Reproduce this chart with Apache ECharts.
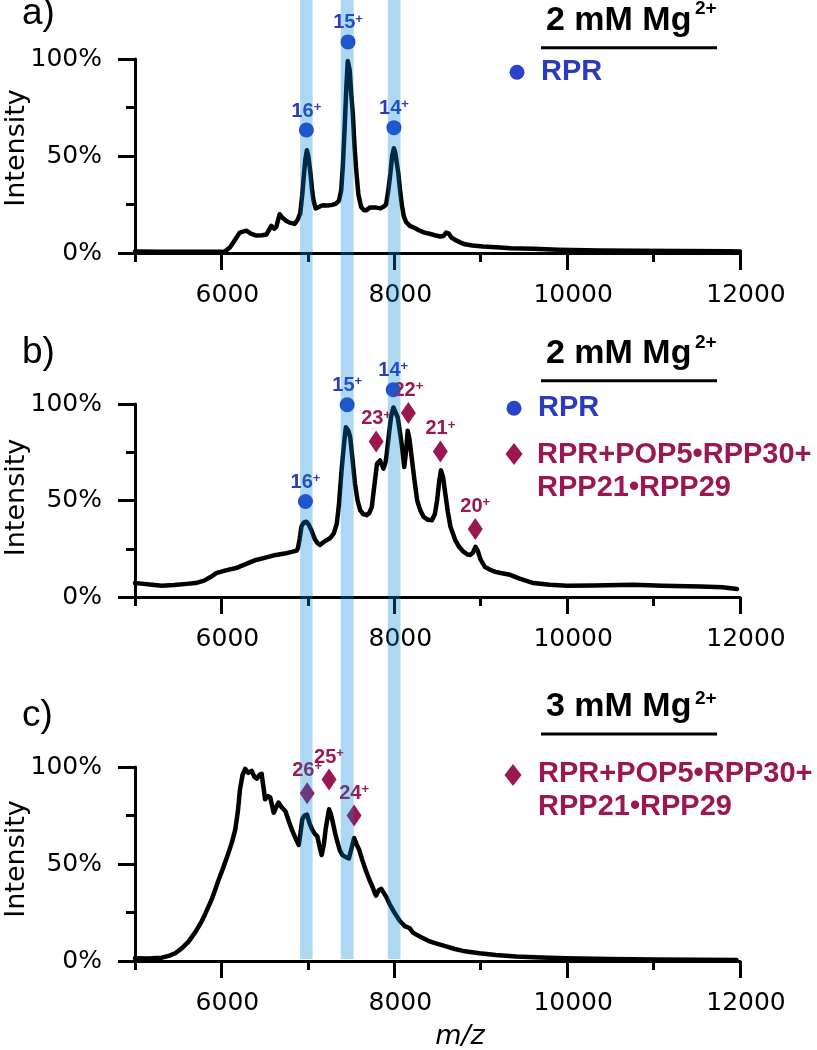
<!DOCTYPE html>
<html><head><meta charset="utf-8">
<script src="https://cdn.jsdelivr.net/npm/echarts@6/dist/echarts.min.js"></script>
<style>html,body{margin:0;padding:0;background:#fff}#c{width:817px;height:1050px}</style>
</head><body><div id="c"></div>
<script>
// ---- data ----
const xMajorTicks = [6000, 8000, 10000, 12000];
const xMinorTicks = [5000, 7000, 9000, 11000];
const bands = [[6910, 7055], [7380, 7530], [7925, 8072]];

const spectrumA = [[5000,0.8],[5300,0.6],[5600,0.7],[5900,0.6],[6040,0.8],[6100,3],[6160,7],[6211,10.5],[6289,11.5],[6340,10],[6405,9],[6470,9.2],[6520,9.5],[6577,14],[6610,12.5],[6635,13.5],[6673,20],[6710,18],[6751,16.5],[6800,15.5],[6847,15],[6880,17],[6912,20.5],[6935,30],[6950,38],[6970,48],[6989,53],[7005,50],[7028,42],[7050,32],[7066,27],[7090,23],[7104,22],[7140,24],[7173,24.6],[7230,24.5],[7280,24.8],[7328,25.5],[7360,27],[7386,32.3],[7405,45],[7424,63],[7445,85],[7462,99],[7472,100],[7485,94],[7500,83],[7520,72],[7540,55],[7559,43],[7585,30],[7617,23.7],[7650,22],[7674,22],[7720,23.5],[7780,23.5],[7840,23],[7880,24],[7905,25],[7930,32],[7955,41],[7975,50],[7995,54],[8010,52],[8030,46],[8047,41],[8070,31],[8090,24],[8110,19],[8136,16],[8180,14],[8230,13],[8290,11.6],[8350,10.5],[8420,9.8],[8483,9],[8530,8.5],[8570,8.8],[8600,10.5],[8630,10],[8660,8],[8714,6.5],[8760,5.5],[8820,4.5],[8906,3.9],[9026,3.4],[9176,3],[9350,2.5],[9603,2.2],[9900,1.7],[10374,1.3],[10800,1.1],[11300,1],[11875,0.9],[12000,0.8]];

const spectrumB = [[5000,7.2],[5100,6.8],[5200,6.3],[5310,5.8],[5450,6.2],[5600,6.8],[5700,7.2],[5800,8.5],[5880,10.5],[5940,12.4],[6050,13.8],[6170,15],[6280,17],[6400,19.2],[6520,20.5],[6630,21.8],[6730,22.5],[6825,23.5],[6870,24],[6885,25.3],[6905,30],[6925,36.4],[6950,38.5],[6983,39],[7010,37.5],[7040,34.7],[7080,30],[7110,28],[7140,27],[7200,29],[7255,30.4],[7300,33],[7335,38],[7360,48],[7390,65.6],[7420,80],[7440,88],[7450,89],[7470,86],[7490,82.8],[7515,72],[7545,58.8],[7575,50],[7605,45],[7640,43],[7680,42.4],[7710,43.5],[7740,46.7],[7770,58],[7800,69],[7835,70.8],[7875,66.5],[7900,70],[7912,74],[7940,85],[7965,94],[7990,98.2],[8010,99],[8040,93],[8070,84],[8090,77.6],[8115,67.3],[8135,75],[8155,86.2],[8175,82],[8205,70.8],[8235,60],[8265,50],[8300,45],[8340,41.5],[8390,40],[8435,39.8],[8470,43],[8495,50],[8520,60],[8540,65.6],[8565,62],[8590,53.6],[8620,44],[8650,36.4],[8705,29.5],[8750,26],[8800,23.5],[8850,22],[8880,21.8],[8910,23],[8940,26],[8965,24],[9000,19.2],[9050,15.5],[9115,14],[9170,13],[9230,12.4],[9340,11.5],[9450,9.5],[9610,7.2],[9800,6.3],[9995,5.8],[10300,6],[10765,6.3],[11100,5.8],[11540,5.5],[11800,5],[11965,4.1]];

const spectrumC = [[5000,1.4],[5150,1.3],[5310,1.7],[5400,2.8],[5465,4],[5540,6.5],[5620,10],[5700,15],[5760,19.5],[5810,24],[5890,32],[5965,41.5],[6020,48],[6080,55.5],[6120,61],[6160,67.7],[6190,77],[6215,88.6],[6245,96],[6275,99],[6310,97],[6350,98],[6380,95],[6410,94],[6440,96],[6465,96.5],[6485,90],[6505,83.4],[6535,85],[6565,84.3],[6605,76.4],[6630,79],[6660,81.7],[6700,79],[6740,77.3],[6780,72],[6815,67.7],[6860,63],[6895,59.8],[6915,66],[6935,73],[6960,75],[6990,75.5],[7020,71],[7050,67.7],[7080,65.5],[7110,64.2],[7140,58],[7160,54.6],[7185,60],[7205,67.7],[7225,73],[7245,78.2],[7265,76],[7290,71.2],[7315,66],[7340,61.6],[7370,57],[7400,54.6],[7440,53.5],[7475,52.9],[7505,58],[7535,63.4],[7565,60],[7595,57.2],[7630,52],[7670,46.8],[7710,42],[7750,38],[7775,35],[7790,33.7],[7820,36.5],[7850,37.2],[7880,35],[7910,32.8],[7950,29],[7990,25.8],[8030,23],[8065,20.6],[8120,18],[8175,17],[8220,14.5],[8300,12.5],[8410,10.1],[8500,8.8],[8600,7.5],[8700,6.2],[8795,5.2],[8900,4.5],[8985,4],[9175,3.1],[9410,2.3],[9700,1.8],[9990,1.4],[10500,1],[11000,0.8],[11500,0.6],[11960,0.5]];

const rprA = [[6983,63.4,'16'],[7465,108.8,'15'],[7996,64.6,'14']];
const rprB = [[6972,49.5,'16'],[7455,99.6,'15'],[7988,107.4,'14']];
const complexB = [[7790,80.6,'23'],[8163,95.3,'22'],[8533,75.4,'21'],[8937,35.2,'20']];
const complexC = [[6992,86.5,'26'],[7245,93.5,'25'],[7535,75,'24']];

// ---- styles ----
const BLUE = '#2a43c8', BLUE_T = '#2c3abd', RED = '#9b1751';
const REG = 'DejaVu Sans', BOLD = 'Liberation Sans';
const grids = [
  {left:135, right:77, top:59, height:194},
  {left:135, right:77, top:404, height:193},
  {left:135, right:77, top:767, height:194},
  {left:135, right:77, top:0, height:959}
];
const ax = {color:'#000', width:3};
const xAxes = [], yAxes = [];
for (let i = 0; i < 3; i++) {
  xAxes.push({type:'value', gridIndex:i, position:'bottom', min:5000, max:12000,
    axisLine:{show:true, onZero:false, lineStyle:ax},
    axisTick:{show:true, customValues:xMajorTicks, length:17, lineStyle:ax},
    axisLabel:{show:true, customValues:xMajorTicks, margin:30, fontSize:25, fontFamily:REG, color:'#000',
      padding:[0,0,0,12], formatter:v=>String(v)},
    splitLine:{show:false}});
  xAxes.push({type:'value', gridIndex:i, position:'bottom', offset:0, min:5000, max:12000,
    axisLine:{show:false},
    axisTick:{show:true, customValues:xMinorTicks, length:9, lineStyle:ax},
    axisLabel:{show:false}, splitLine:{show:false}});
  yAxes.push({type:'value', gridIndex:i, min:0, max:100, interval:50,
    axisLine:{show:true, lineStyle:ax},
    axisTick:{show:true, length:17, lineStyle:ax},
    minorTick:{show:true, splitNumber:2, length:9, lineStyle:ax},
    axisLabel:{margin:33, fontSize:25, fontFamily:REG, color:'#000', formatter:'{value}%'},
    splitLine:{show:false}, minorSplitLine:{show:false}});
}
xAxes.push({type:'value', gridIndex:3, min:5000, max:12000, show:false});
yAxes.push({type:'value', gridIndex:3, min:0, max:1, show:false});

function lineSeries(data, xi, yi) {
  return {type:'line', xAxisIndex:xi, yAxisIndex:yi, data, showSymbol:false, symbol:'none', z:2,
    lineStyle:{color:'#000', width:4.5, join:'round', cap:'round'}, silent:true};
}
function markSeries(data, xi, yi, symbol, size, color, tcolor) {
  return {type:'scatter', xAxisIndex:xi, yAxisIndex:yi, data, symbol, symbolSize:size, clip:false, z:3,
    itemStyle:{color, opacity:1}, silent:true,
    label:{show:true, position:'top', distance:1, fontSize:20, fontWeight:'bold', fontFamily:BOLD, color:tcolor, opacity:1,
      formatter:p=>'{n|' + p.data[2] + '}{s|+}',
      rich:{n:{fontSize:20, fontWeight:'bold', fontFamily:BOLD, color:tcolor, lineHeight:21},
            s:{fontSize:13, fontWeight:'bold', fontFamily:BOLD, color:tcolor, verticalAlign:'top', lineHeight:21}}}};
}

const series = [
  lineSeries(spectrumA, 0, 0),
  lineSeries(spectrumB, 2, 1),
  lineSeries(spectrumC, 4, 2),
  markSeries(rprA, 0, 0, 'circle', 15, BLUE, BLUE_T),
  markSeries(rprB, 2, 1, 'circle', 15, BLUE, BLUE_T),
  markSeries(complexB, 2, 1, 'diamond', [15, 22], RED, RED),
  markSeries(complexC, 4, 2, 'diamond', [15, 22], RED, RED),
  {type:'custom', xAxisIndex:6, yAxisIndex:3, data:bands, z:10, silent:true,
    renderItem:(params, api) => {
      const p1 = api.coord([api.value(0), 1]);
      const p2 = api.coord([api.value(1), 0]);
      return {type:'rect', shape:{x:p1[0], y:p1[1], width:p2[0]-p1[0], height:p2[1]-p1[1]},
        style:{fill:'rgba(4,134,215,0.32)'}};
    }}
];

// ---- annotations ----
const g = [];
function txt(x, y, text, font, color, align, extra) {
  g.push(Object.assign({type:'text', x, y, silent:true,
    style:{text, font, fill:color, align:align||'left', verticalAlign:'middle'}}, extra||{}));
}
[['a)',14],['b)',353],['c)',716]].forEach(([t,y]) => txt(22, y, t, '37px "Liberation Sans"', '#000'));
[148, 497.5, 859].forEach(y => txt(17, y, 'Intensity', '27px "DejaVu Sans"', '#000', 'center', {rotation:Math.PI/2}));
txt(460, 1037, 'm/z', 'italic 27px "DejaVu Sans"', '#000', 'center');
[['2 mM Mg',20.5,8.3,47.7],['2 mM Mg',354,342.5,380.7],['3 mM Mg',706.7,699,734]].forEach(([t,y,ys,yl]) => {
  txt(546, y, t, 'bold 34px "Liberation Sans"', '#000');
  txt(695, ys, '2+', 'bold 19px "Liberation Sans"', '#000');
  g.push({type:'line', silent:true, shape:{x1:541, y1:yl, x2:717, y2:yl}, style:{stroke:'#000', lineWidth:3}});
});
// legend entries
g.push({type:'circle', silent:true, shape:{cx:517, cy:72.3, r:7.5}, style:{fill:BLUE}});
txt(541, 72, 'RPR', 'bold 29px "Liberation Sans"', BLUE_T);
g.push({type:'circle', silent:true, shape:{cx:514, cy:408.3, r:7.5}, style:{fill:BLUE}});
txt(538, 408, 'RPR', 'bold 29px "Liberation Sans"', BLUE_T);
function diamond(cx, cy) {
  g.push({type:'polygon', silent:true, shape:{points:[[cx,cy-11],[cx+8.5,cy],[cx,cy+11],[cx-8.5,cy]]}, style:{fill:RED}});
}
diamond(514, 454);
g.push({type:'text', x:537, y:471, silent:true, style:{text:'RPR+POP5•RPP30+\nRPP21•RPP29', font:'bold 29px "Liberation Sans"', fill:RED, align:'left', verticalAlign:'middle', lineHeight:33}});
diamond(513, 775);
g.push({type:'text', x:538, y:790.5, silent:true, style:{text:'RPR+POP5•RPP30+\nRPP21•RPP29', font:'bold 29px "Liberation Sans"', fill:RED, align:'left', verticalAlign:'middle', lineHeight:33}});

const chart = echarts.init(document.getElementById('c'), null, {renderer:'canvas'});
chart.setOption({animation:false, backgroundColor:'#fff', grid:grids, xAxis:xAxes, yAxis:yAxes, series, graphic:g});
</script>
</body></html>
